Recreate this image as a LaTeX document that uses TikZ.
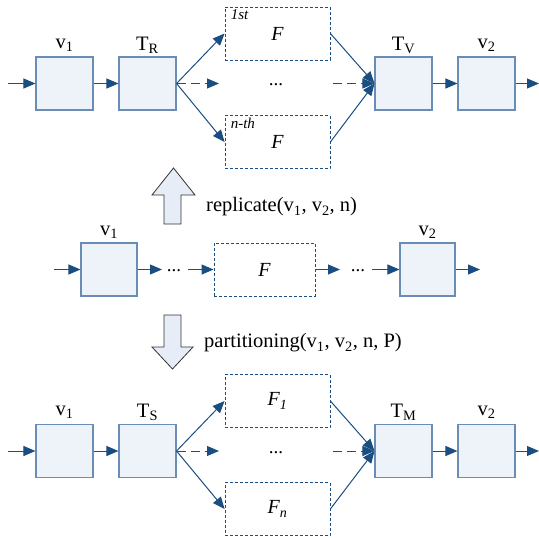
\documentclass[tikz,border=0pt]{standalone}
\usepackage{fontspec}
\setmainfont{Liberation Serif}
\usetikzlibrary{arrows.meta}
\definecolor{boxfill}{HTML}{EEF3FA}
\definecolor{boxline}{HTML}{6A8DB5}
\definecolor{arr}{HTML}{1A4E80}
\definecolor{bigfill}{HTML}{E6EDF6}
\tikzset{
  x=1pt, y=-1pt,
  vbox/.style={draw=boxline, fill=boxfill, line width=1.1pt, minimum width=57pt, minimum height=53pt, inner sep=0pt},
  fbox/.style={draw=arr, densely dashed, line width=0.8pt, minimum width=105pt, minimum height=53pt, inner sep=0pt, font=\fontsize{20}{22}\selectfont\itshape},
  lbl/.style={font=\fontsize{20.5}{22}\selectfont, inner sep=0pt},
  dots/.style={font=\fontsize{19}{20}\selectfont, inner sep=0pt},
  conn/.style={draw=arr, line width=1pt, -{Triangle[length=12pt,width=10pt]}},
  dconn/.style={conn, dash pattern=on 9pt off 5pt},
  corner/.style={font=\fontsize{15}{16}\selectfont\itshape, inner sep=0pt, anchor=north west},
  big/.style={draw=black!80, fill=bigfill, line width=0.8pt},
}
\begin{document}
\begin{tikzpicture}
\useasboundingbox (0,0) rectangle (539,538);
% ---------- top row ----------
\coordinate (tin) at (8,83.5);
\node[vbox] (tv1) at (64.5,83.5) {};
\node[vbox] (ttr) at (147.5,83.5) {};
\node[fbox] (tf1) at (277.5,33.5) {\raisebox{-3pt}{F}};
\node[fbox] (tfn) at (277.5,142) {\raisebox{-3pt}{F}};
\node[dots] (tdots) at (276,85) {...};
\node[vbox] (ttv) at (403.5,83.5) {};
\node[vbox] (tv2) at (486.5,83.5) {};
\coordinate (tout) at (539,83.5);
\coordinate (tda) at (219,83.5);
\coordinate (tdb) at (333,83.5);
\node[lbl] (ltv1) at (64.5,45) {v\textsubscript{1}};
\node[lbl] (lttr) at (147.5,45) {T\textsubscript{R}};
\node[lbl] (lttv) at (403.5,45) {T\textsubscript{V}};
\node[lbl] (ltv2) at (486.5,45) {v\textsubscript{2}};
\node[corner] (c1) at ([shift={(6,3)}]tf1.north west) {1st};
\node[corner] (c2) at ([shift={(6,3)}]tfn.north west) {n-th};
\draw[conn] (tin) -- (tv1);
\draw[conn] (tv1) -- (ttr);
\draw[conn] (ttr.east) -- (tf1.west);
\draw[conn] (ttr.east) -- (tfn.west);
\draw[dconn] (ttr.east) -- (tda);
\draw[dconn] (tdb) -- (ttv.west);
\draw[conn] (tf1.east) -- (ttv.west);
\draw[conn] (tfn.east) -- (ttv.west);
\draw[conn] (ttv) -- (tv2);
\draw[conn] (tv2) -- (tout);
% ---------- block arrows ----------
\draw[big] (173.5,168) -- (195,195) -- (181,195) -- (181,224) -- (164,224) -- (164,195) -- (152,195) -- cycle;
\node[lbl, anchor=west] (rep) at (206,207) {replicate(v\textsubscript{1}, v\textsubscript{2}, n)};
\draw[big] (164,315) -- (181,315) -- (181,347) -- (193,347) -- (172.5,369) -- (152,347) -- (164,347) -- cycle;
\node[lbl, anchor=west] (part) at (204,343) {partitioning(v\textsubscript{1}, v\textsubscript{2}, n, P)};
% ---------- middle row ----------
\coordinate (min) at (54,269.5);
\node[vbox, minimum width=56pt] (mv1) at (109,269.5) {};
\coordinate (ma) at (162,269.5);
\node[dots] (md1) at (174,271) {...};
\coordinate (mb) at (188,269.5);
\node[fbox, minimum width=101pt] (mf) at (264.5,269.5) {F};
\coordinate (mc) at (340,269.5);
\node[dots] (md2) at (358,271) {...};
\coordinate (md) at (372,269.5);
\node[vbox, minimum width=55pt] (mv2) at (427.5,269.5) {};
\coordinate (mout) at (480,269.5);
\node[lbl] (lmv1) at (109,232) {v\textsubscript{1}};
\node[lbl] (lmv2) at (427.5,232) {v\textsubscript{2}};
\draw[conn] (min) -- (mv1);
\draw[conn] (mv1) -- (ma);
\draw[conn] (mb) -- (mf);
\draw[conn] (mf) -- (mc);
\draw[conn] (md) -- (mv2);
\draw[conn] (mv2) -- (mout);
% ---------- bottom row ----------
\coordinate (bin) at (8,451);
\node[vbox] (bv1) at (64.5,451) {};
\node[vbox] (bts) at (147.5,451) {};
\node[fbox] (bf1) at (277.5,401) {F\textsubscript{1}};
\node[fbox] (bfn) at (277.5,509) {F\textsubscript{n}};
\node[dots] (bdots) at (276,452.5) {...};
\node[vbox] (btm) at (403.5,451) {};
\node[vbox] (bv2) at (486.5,451) {};
\coordinate (bout) at (539,451);
\coordinate (bda) at (219,451);
\coordinate (bdb) at (333,451);
\node[lbl] (lbv1) at (64.5,412.5) {v\textsubscript{1}};
\node[lbl] (lbts) at (147.5,412.5) {T\textsubscript{S}};
\node[lbl] (lbtm) at (403.5,412.5) {T\textsubscript{M}};
\node[lbl] (lbv2) at (486.5,412.5) {v\textsubscript{2}};
\draw[conn] (bin) -- (bv1);
\draw[conn] (bv1) -- (bts);
\draw[conn] (bts.east) -- (bf1.west);
\draw[conn] (bts.east) -- (bfn.west);
\draw[dconn] (bts.east) -- (bda);
\draw[dconn] (bdb) -- (btm.west);
\draw[conn] (bf1.east) -- (btm.west);
\draw[conn] (bfn.east) -- (btm.west);
\draw[conn] (btm) -- (bv2);
\draw[conn] (bv2) -- (bout);
\end{tikzpicture}
\end{document}
